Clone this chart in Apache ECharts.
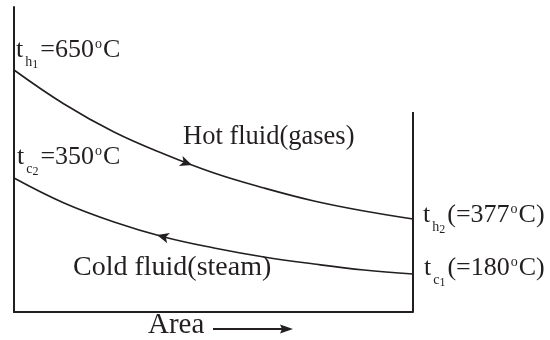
<!DOCTYPE html>
<html><head><meta charset="utf-8">
<script src="https://cdn.jsdelivr.net/npm/echarts@6/dist/echarts.min.js"></script>
<style>html,body{margin:0;padding:0;background:#fff}#c{width:550px;height:340px}</style>
</head><body><div id="c"></div>
<script>
// Area along the exchanger (arbitrary units) and curve heights above the area axis
const area = [0, 50, 100, 150, 200, 250, 300, 350, 399];
const hotFluid = [242, 208, 180, 158, 139, 124, 111, 101, 93];
const coldFluid = [134, 109, 90, 75, 64, 55, 48, 42, 38];
const wallArea = [399, 399];
const wallHeight = [0, 200];
const hotArrowAt = [178, 147];
const coldArrowAt = [143, 77];
const hotInLabel = ['h', '1', '=650', 'C'];
const coldOutLabel = ['c', '2', '=350', 'C'];
const hotOutLabel = ['h', '2', '(=377', 'C)'];
const coldInLabel = ['c', '1', '(=180', 'C)'];
const hotName = 'Hot fluid(gases)';
const coldName = 'Cold fluid(steam)';
const axisName = 'Area';

const INK = '#231f20';
const FONT = "'Liberation Serif', 'DejaVu Serif', serif";

function pairs(xs, ys) { return xs.map((x, i) => [x, ys[i]]); }

function tempLabel(parts, x, y) {
  return {
    type: 'text', x: x, y: y,
    style: {
      text: '{m|t}{a|' + parts[0] + '}{b|' + parts[1] + '}{m|' + parts[2] + '}{o|o}{m|' + parts[3] + '}',
      align: 'left', verticalAlign: 'top', fill: INK,
      font: '26px ' + FONT,
      rich: {
        m: { fontSize: 26, fontFamily: FONT, lineHeight: 26, verticalAlign: 'top', fill: INK },
        a: { fontSize: 14, fontFamily: FONT, lineHeight: 14, verticalAlign: 'top', padding: [18, 0, 0, 2], fill: INK },
        b: { fontSize: 12, fontFamily: FONT, lineHeight: 12, verticalAlign: 'top', padding: [22, 2, 0, 0], fill: INK },
        o: { fontSize: 14, fontFamily: FONT, lineHeight: 14, verticalAlign: 'top', padding: [0, 1, 0, 1], fill: INK }
      }
    }
  };
}
function plainText(t, x, y, size) {
  return { type: 'text', x: x, y: y, style: { text: t, font: size + 'px ' + FONT, fill: INK, align: 'left', verticalAlign: 'top' } };
}

const chart = echarts.init(document.getElementById('c'), null, { renderer: 'canvas' });
chart.setOption({
  animation: false,
  backgroundColor: '#fff',
  grid: { left: 14, right: 137, top: 7, bottom: 28 },
  xAxis: {
    type: 'value', min: 0, max: 399,
    axisLine: { show: true, onZero: false, lineStyle: { color: INK, width: 2 } },
    axisTick: { show: false }, axisLabel: { show: false }, splitLine: { show: false }
  },
  yAxis: {
    type: 'value', min: 0, max: 305,
    axisLine: { show: true, onZero: false, lineStyle: { color: INK, width: 2 } },
    axisTick: { show: false }, axisLabel: { show: false }, splitLine: { show: false }
  },
  series: [
    {
      name: hotName, type: 'line', data: pairs(area, hotFluid), smooth: 0.4,
      showSymbol: false, lineStyle: { color: INK, width: 1.6 },
      markPoint: {
        silent: true, label: { show: false },
        data: [{ coord: hotArrowAt, symbol: 'arrow', symbolSize: [8, 12], symbolRotate: -110, itemStyle: { color: INK } }]
      }
    },
    {
      name: coldName, type: 'line', data: pairs(area, coldFluid), smooth: 0.4,
      showSymbol: false, lineStyle: { color: INK, width: 1.6 },
      markPoint: {
        silent: true, label: { show: false },
        data: [{ coord: coldArrowAt, symbol: 'arrow', symbolSize: [8, 12], symbolRotate: 75, itemStyle: { color: INK } }]
      }
    },
    {
      name: 'wall', type: 'line', data: pairs(wallArea, wallHeight),
      showSymbol: false, lineStyle: { color: INK, width: 2 }
    }
  ],
  graphic: [
    tempLabel(hotInLabel, 16, 37),
    tempLabel(coldOutLabel, 17, 144),
    tempLabel(hotOutLabel, 423, 202),
    tempLabel(coldInLabel, 424, 255),
    plainText(hotName, 183, 124, 26.5),
    plainText(coldName, 73, 253.5, 28),
    plainText(axisName, 148, 311, 29),
    { type: 'line', shape: { x1: 213, y1: 329, x2: 283, y2: 329 }, style: { stroke: INK, lineWidth: 2 } },
    { type: 'polygon', shape: { points: [[293, 329], [280, 324.5], [282, 329], [280, 333.5]] }, style: { fill: INK } }
  ]
});
</script>
</body></html>
